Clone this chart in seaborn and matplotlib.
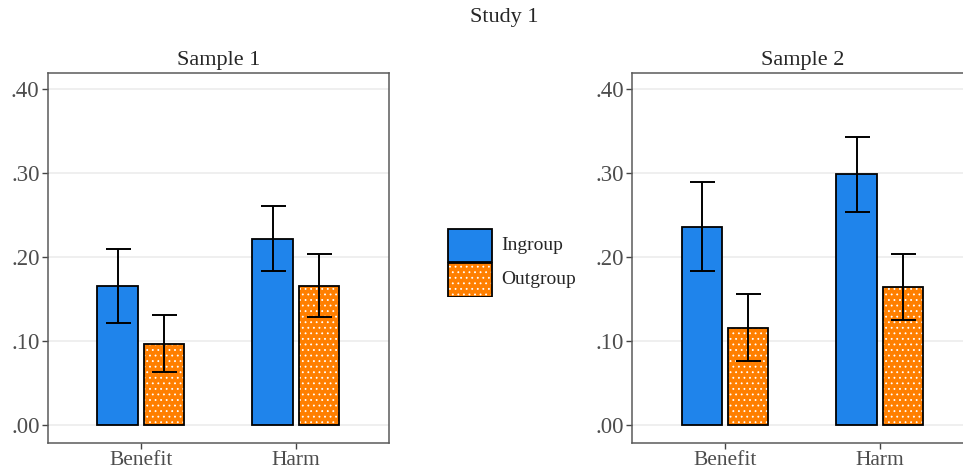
import pandas as pd
import matplotlib.pyplot as plt
import matplotlib.patches as mpatches
from matplotlib.ticker import FuncFormatter
import seaborn as sns

types = ['Benefit', 'Harm']
groups = ['Ingroup', 'Outgroup']
samples = ['Sample 1', 'Sample 2']

# means per sample: [Benefit-In, Benefit-Out, Harm-In, Harm-Out]
s1_mean = [0.166, 0.097, 0.221, 0.166]
s1_low = [0.122, 0.064, 0.183, 0.129]
s1_high = [0.210, 0.131, 0.261, 0.204]

s2_mean = [0.236, 0.116, 0.299, 0.164]
s2_low = [0.183, 0.076, 0.254, 0.125]
s2_high = [0.289, 0.156, 0.343, 0.204]

blue = '#1f84eb'
orange = '#ff7f00'

sns.set_style('white')
plt.rcParams['font.family'] = ['Liberation Serif', 'DejaVu Serif']
plt.rcParams['hatch.linewidth'] = 0.6

fig = plt.figure(figsize=(9.63, 4.69), dpi=100)
ax1 = fig.add_axes([0.0498, 0.0554, 0.354, 0.789])
ax2 = fig.add_axes([0.6563, 0.0554, 0.354, 0.789])

all_means = [s1_mean, s2_mean]
all_low = [s1_low, s2_low]
all_high = [s1_high, s2_high]


def outline(ax, p):
    ax.add_patch(mpatches.Rectangle((p.get_x(), p.get_y()), p.get_width(), p.get_height(),
                                    fill=False, edgecolor='black', linewidth=1.3, zorder=3))


for ax, name, means, low, high in zip([ax1, ax2], samples, all_means, all_low, all_high):
    df = pd.DataFrame({
        'type': [t for t in types for g in groups],
        'group': [g for t in types for g in groups],
        'value': means,
    })
    sns.barplot(data=df, x='type', y='value', hue='group', order=types, hue_order=groups,
                palette=[blue, orange], errorbar=None, width=0.6, gap=0.13,
                edgecolor='black', linewidth=1.3, saturation=1, ax=ax, legend=False)

    bars = [p for p in ax.patches if p.get_height() > 0]
    bars = sorted(bars, key=lambda p: p.get_x())
    for p, m, lo, hi in zip(bars, means, low, high):
        xc = p.get_x() + p.get_width() / 2
        ax.errorbar(xc, m, yerr=[[m - lo], [hi - m]], fmt='none', ecolor='black',
                    elinewidth=1.4, capsize=9, capthick=1.4, zorder=5)
        if abs(p.get_facecolor()[0] - 1.0) < 0.01:
            # dotted fill: white hatch on orange, then black outline on top
            p.set_edgecolor('white')
            p.set_hatch('...')
            p.set_linewidth(0)
            outline(ax, p)

    ax.set_xlim(-0.6, 1.6)
    ax.set_ylim(-0.021, 0.419)
    ax.set_yticks([0, 0.1, 0.2, 0.3, 0.4])
    ax.yaxis.set_major_formatter(FuncFormatter(lambda v, pos: f'{v:.2f}'.lstrip('0')))
    ax.grid(axis='y', color='#ebebeb', linewidth=1.1)
    ax.set_axisbelow(True)
    for sp in ax.spines.values():
        sp.set_color('#5a5a5a')
        sp.set_linewidth(1.1)
    ax.tick_params(axis='both', which='both', length=4, width=1.0, color='#444444',
                   labelcolor='#4d4d4d', left=True, bottom=True, pad=2)
    ax.tick_params(axis='y', labelsize=16.5)
    ax.tick_params(axis='x', labelsize=15.5)
    ax.set_xlabel('')
    ax.set_ylabel('')
    ax.set_title(name, fontsize=16, pad=6)

# legend drawn as a small inset axes with two stacked keys
lax = fig.add_axes([447 / 963, 1 - 297 / 469, 130 / 963, 69 / 469])
lax.set_xlim(0, 130)
lax.set_ylim(0, 69)
lax.axis('off')
key_in = mpatches.Rectangle((0.5, 35), 44, 33.5, facecolor=blue, edgecolor='black', linewidth=1.3)
key_out = mpatches.Rectangle((0.5, 0.5), 44, 34, facecolor=orange, edgecolor='white',
                             hatch='...', linewidth=0)
lax.add_patch(key_in)
lax.add_patch(key_out)
lax.add_patch(mpatches.Rectangle((0.5, 0.5), 44, 34, fill=False, edgecolor='black', linewidth=1.3))
lax.text(54, 51.5, groups[0], ha='left', va='center', fontsize=14)
lax.text(54, 17.5, groups[1], ha='left', va='center', fontsize=14)

fig.text(0.524, 0.963, 'Study 1', ha='center', va='center', fontsize=16)

fig.savefig('out.png', dpi=100)
